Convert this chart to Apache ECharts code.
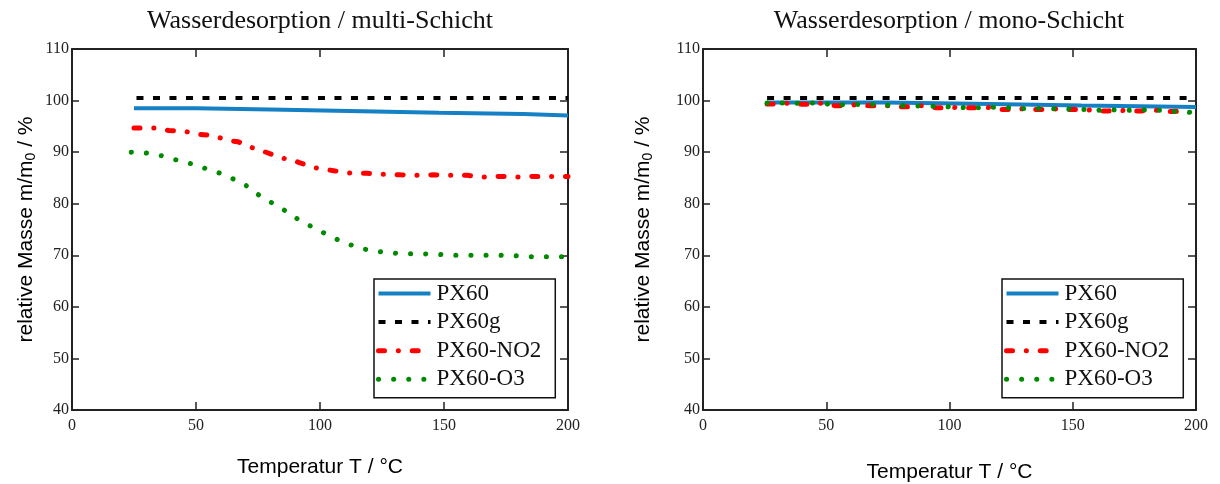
<!DOCTYPE html>
<html>
<head>
<meta charset="utf-8">
<script src="https://cdn.jsdelivr.net/npm/echarts@6/dist/echarts.min.js"></script>
<style>html,body{margin:0;padding:0;background:#fff}#c{width:1220px;height:484px}</style>
</head>
<body>
<div id="c"></div>
<script>
// ---------- data ----------
var seriesNames = ['PX60', 'PX60g', 'PX60-NO2', 'PX60-O3'];
var xTicks = [0, 50, 100, 150, 200];
var yTicks = [40, 50, 60, 70, 80, 90, 100, 110];

// multi-Schicht
var multiPX60_T = [25, 50, 80, 117, 148, 182, 200];
var multiPX60_m = [98.5, 98.25, 97.95, 97.65, 97.4, 97.1, 97.1];
var multiPX60g_T = [26, 200];
var multiPX60g_m = [100.5, 100.5];
var multiNO2_T = [25, 30, 34, 39, 46, 50, 55, 58, 64, 67, 70.5, 75, 77, 81, 86, 89, 92, 97.5, 100.5, 105.5, 110.5, 113.6, 119, 124.5, 128, 132.5, 137.5, 141, 145.7, 150.7, 155, 159.4, 164.5, 168.4, 172, 178, 181.5, 185.8, 191.5, 200];
var multiNO2_m = [94.7, 94.7, 94.7, 94.2, 94.0, 93.5, 93.3, 93.0, 92.2, 92.0, 91.3, 90.4, 90.2, 89.5, 88.7, 88.5, 87.9, 87.0, 86.8, 86.4, 86.0, 85.9, 85.9, 85.7, 85.7, 85.6, 85.5, 85.5, 85.6, 85.5, 85.5, 85.5, 85.2, 85.2, 85.3, 85.2, 85.2, 85.3, 85.3, 85.3];
var multiO3_T = [23.9, 30.4, 36.2, 42.7, 49.3, 54.6, 60.4, 65, 69.7, 74.3, 79, 84.3, 89, 94.4, 99, 104.4, 110.2, 116, 121.8, 127.8, 134, 140.6, 146.8, 153.7, 159.9, 166.5, 173, 179.2, 185.8, 192, 198.9];
var multiO3_m = [90.0, 89.8, 89.3, 88.4, 87.6, 86.7, 85.8, 84.8, 83.7, 82.0, 80.6, 79.2, 77.6, 76.1, 75.0, 73.6, 72.4, 71.4, 70.8, 70.5, 70.3, 70.3, 70.2, 70.0, 70.0, 70.0, 70.0, 69.9, 69.7, 69.7, 69.7];

// mono-Schicht
var monoPX60_T = [26, 74, 116.5, 153.5, 200];
var monoPX60_m = [99.65, 99.35, 99.05, 98.75, 98.75];
var monoPX60g_T = [26, 200];
var monoPX60g_m = [100.5, 100.5];
var monoNO2_T = [26, 30, 34.6, 40, 43, 48, 53.5, 57.5, 62, 67.7, 71, 75.6, 81, 84, 89, 94.5, 97, 102, 108, 111, 115.7, 121, 124, 129, 134.6, 137.8, 142.5, 148, 151, 156, 161, 164.6, 169, 174.8, 178, 182.7, 188, 190.5, 196.5];
var monoNO2_m = [99.35, 99.35, 99.5, 99.3, 99.3, 99.5, 99.0, 99.0, 99.2, 99.0, 99.0, 99.0, 98.8, 98.8, 99.0, 98.6, 98.6, 98.65, 98.6, 98.6, 98.65, 98.25, 98.25, 98.4, 98.25, 98.25, 98.4, 98.25, 98.25, 98.2, 98.0, 98.0, 98.1, 98.0, 98.0, 98.2, 97.86, 97.86, 98.05];
var monoO3_T = [26, 32.3, 38.6, 44.9, 51.2, 58, 64.6, 70.9, 76.9, 83.5, 89.5, 96.1, 102.4, 108.7, 115.3, 121.7, 128.4, 134.7, 141, 147.6, 153.9, 159.9, 166.5, 172.8, 179.1, 185.4, 191.7, 198.5];
var monoO3_m = [99.55, 99.55, 99.48, 99.55, 99.29, 99.16, 99.29, 99.22, 99.03, 99.03, 98.9, 98.9, 98.7, 98.57, 98.7, 98.7, 98.44, 98.44, 98.44, 98.38, 98.3, 98.1, 98.2, 98.1, 98.2, 98.1, 97.86, 97.7];

// ---------- helpers ----------
function zip(a, b) { return a.map(function (v, i) { return [v, b[i]]; }); }
var serif = 'Liberation Serif';
var sans = 'Liberation Sans';
var axisColor = '#222';

var styles = {
  'PX60': { color: '#1580c4', width: 4, type: 'solid', cap: 'butt' },
  'PX60g': { color: '#000000', width: 4, type: [7, 9.5], cap: 'butt' },
  'PX60-NO2': { color: '#ff0000', width: 5, type: [6, 13.8, 0.1, 13.8], cap: 'round' },
  'PX60-O3': { color: '#008a00', width: 5, type: [0.1, 15], cap: 'round' }
};

function mkSeries(name, T, m, idx, step) {
  var s = styles[name];
  var o = {
    name: name, type: 'line', xAxisIndex: idx * 2, yAxisIndex: idx * 2,
    data: zip(T, m), symbol: 'none', smooth: false, animation: false,
    color: s.color,
    itemStyle: { color: s.color, opacity: 0 },
    lineStyle: { color: s.color, width: s.width, type: s.type, cap: s.cap }
  };
  if (step) o.step = 'end';
  return o;
}

function mkAxes(gridIndex, nameGapY, nameGapX) {
  var xMain = {
    type: 'value', gridIndex: gridIndex, min: xTicks[0], max: xTicks[xTicks.length - 1], interval: 50,
    position: 'bottom',
    name: 'Temperatur T / °C', nameLocation: 'middle', nameGap: nameGapX,
    nameTextStyle: { fontFamily: sans, fontSize: 21, color: '#000' },
    axisLine: { show: true, onZero: false, lineStyle: { color: axisColor, width: 2 } },
    axisTick: { show: true, inside: true, length: 8, lineStyle: { color: axisColor, width: 1.5 } },
    axisLabel: { fontFamily: serif, fontSize: 16, color: '#222', margin: 8 },
    splitLine: { show: false }
  };
  var xTop = {
    type: 'value', gridIndex: gridIndex, min: xTicks[0], max: xTicks[xTicks.length - 1], interval: 50,
    position: 'top',
    axisLine: { show: true, onZero: false, lineStyle: { color: axisColor, width: 2 } },
    axisTick: { show: true, inside: true, length: 8, lineStyle: { color: axisColor, width: 1.5 } },
    axisLabel: { show: false }, splitLine: { show: false }
  };
  var yMain = {
    type: 'value', gridIndex: gridIndex, min: yTicks[0], max: yTicks[yTicks.length - 1], interval: 10,
    position: 'left',
    name: 'relative Masse m/m{sub|0} / %', nameLocation: 'middle', nameRotate: 90, nameGap: nameGapY,
    nameTextStyle: {
      fontFamily: sans, fontSize: 21, color: '#000', lineHeight: 24,
      rich: { sub: { fontFamily: sans, fontSize: 14, lineHeight: 14, verticalAlign: 'bottom', color: '#000' } }
    },
    axisLine: { show: true, onZero: false, lineStyle: { color: axisColor, width: 2 } },
    axisTick: { show: true, inside: true, length: 7, lineStyle: { color: axisColor, width: 1.5 } },
    axisLabel: { fontFamily: serif, fontSize: 16, color: '#222', margin: 3 },
    splitLine: { show: false }
  };
  var yRight = {
    type: 'value', gridIndex: gridIndex, min: yTicks[0], max: yTicks[yTicks.length - 1], interval: 10,
    position: 'right',
    axisLine: { show: true, onZero: false, lineStyle: { color: axisColor, width: 2 } },
    axisTick: { show: true, inside: true, length: 8, lineStyle: { color: axisColor, width: 1.5 } },
    axisLabel: { show: false }, splitLine: { show: false }
  };
  return { x: [xMain, xTop], y: [yMain, yRight] };
}

var a0 = mkAxes(0, 34, 47);
var a1 = mkAxes(1, 48, 52);

function mkLegend(left) {
  return {
    orient: 'vertical', left: left, top: 279,
    data: seriesNames.map(function (n) {
      var s = styles[n];
      return { name: n, lineStyle: { color: s.color, width: s.width, type: s.type, cap: s.cap } };
    }),
    itemWidth: 52, itemHeight: 20, itemGap: 5.6,
    padding: [3, 14, 7, 2],
    borderColor: '#111', borderWidth: 1.5, borderRadius: 0,
    backgroundColor: '#fff',
    itemStyle: { opacity: 0 },
    textStyle: { fontFamily: serif, fontSize: 23, color: '#111', padding: [0, 0, 0, 1] },
    selectedMode: false
  };
}

var option = {
  animation: false,
  backgroundColor: '#fff',
  title: [
    { text: 'Wasserdesorption / multi-Schicht', left: 320, top: 8, textAlign: 'center', padding: 0,
      textStyle: { fontFamily: serif, fontSize: 26, fontWeight: 'normal', color: '#111' } },
    { text: 'Wasserdesorption / mono-Schicht', left: 949, top: 8, textAlign: 'center', padding: 0,
      textStyle: { fontFamily: serif, fontSize: 26, fontWeight: 'normal', color: '#111' } }
  ],
  grid: [
    { left: 72, top: 49, width: 496, height: 361, containLabel: false, outerBoundsMode: 'none' },
    { left: 703, top: 49, width: 493, height: 361, containLabel: false, outerBoundsMode: 'none' }
  ],
  legend: [mkLegend(374), mkLegend(1002)],
  xAxis: [a0.x[0], a0.x[1], a1.x[0], a1.x[1]],
  yAxis: [a0.y[0], a0.y[1], a1.y[0], a1.y[1]],
  series: [
    mkSeries('PX60', multiPX60_T, multiPX60_m, 0, true),
    mkSeries('PX60g', multiPX60g_T, multiPX60g_m, 0),
    mkSeries('PX60-NO2', multiNO2_T, multiNO2_m, 0),
    mkSeries('PX60-O3', multiO3_T, multiO3_m, 0),
    mkSeries('PX60', monoPX60_T, monoPX60_m, 1, true),
    mkSeries('PX60g', monoPX60g_T, monoPX60g_m, 1),
    mkSeries('PX60-NO2', monoNO2_T, monoNO2_m, 1),
    mkSeries('PX60-O3', monoO3_T, monoO3_m, 1)
  ]
};
var chart = echarts.init(document.getElementById('c'), null, { renderer: 'canvas' });
chart.setOption(option);
</script>
</body>
</html>
